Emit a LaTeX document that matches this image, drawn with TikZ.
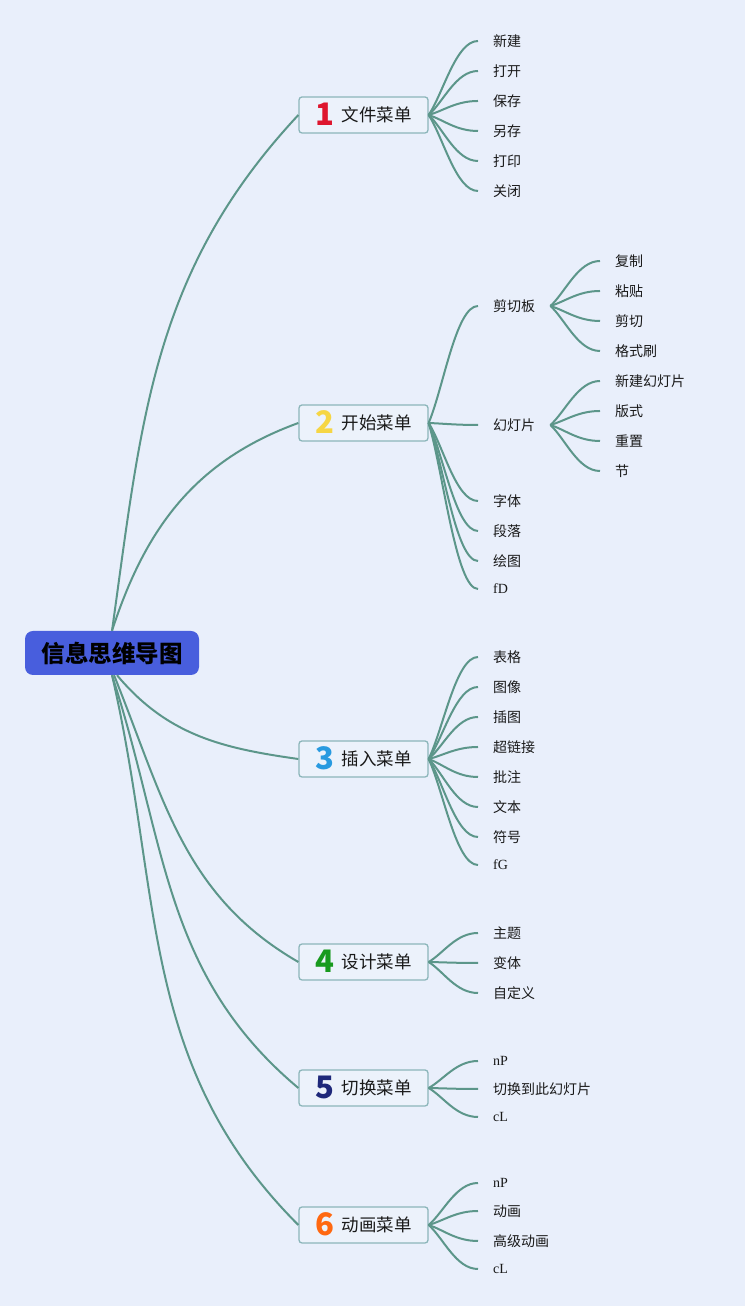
\documentclass[tikz,border=0pt]{standalone}
\usepackage{fontspec}
\setmainfont{Liberation Serif}
\newfontfamily\cjk{Noto Sans CJK SC}
\usetikzlibrary{calc}

\definecolor{bgcol}{RGB}{233,239,251}
\definecolor{linecol}{RGB}{92,150,138}
\definecolor{boxline}{RGB}{140,182,186}
\definecolor{boxfill}{RGB}{236,242,251}
\definecolor{rootblue}{RGB}{72,94,221}
\definecolor{inkcol}{RGB}{25,25,25}
\definecolor{no1}{RGB}{222,22,46}
\definecolor{no2}{RGB}{246,214,68}
\definecolor{no3}{RGB}{40,154,224}
\definecolor{no4}{RGB}{24,154,30}
\definecolor{no5}{RGB}{30,40,122}
\definecolor{no6}{RGB}{255,104,16}

\newcommand{\menuno}[2]{\raisebox{-3.5pt}[0pt][0pt]{\fontsize{31}{31}\selectfont\bfseries\color{#1}#2}\hspace{8pt}}

\tikzset{
  root/.style={fill=rootblue, rounded corners=8pt, minimum width=174pt,
    minimum height=44pt, text=black, font=\fontsize{23.5}{26}\selectfont\cjk\bfseries},
  menu/.style={draw=boxline, fill=boxfill, line width=1.3pt, rounded corners=3pt,
    minimum width=129pt, minimum height=36pt, inner sep=0pt, text=inkcol,
    font=\fontsize{17.5}{20}\selectfont\cjk},
  leaf/.style={anchor=west, inner xsep=15pt, inner ysep=2pt, text=inkcol,
    font=\fontsize{14}{16}\selectfont\cjk},
  latin/.style={font=\fontsize{14}{16}\selectfont\rmfamily},
  branch/.style={to path={.. controls ($(\tikztostart)!0.3!(\tikztotarget)$)
    and ([xshift=-22pt]\tikztotarget) .. (\tikztotarget)}}
}

\begin{document}
\begin{tikzpicture}[x=1pt,y=1pt]
  \fill[bgcol] (0,0) rectangle (745,1306);

  \node[root] (r) at (112,653) {信息思维导图};

  \begin{scope}[every node/.style={menu}]
    \node (m1) at (363.5,1191) {\menuno{no1}{1}文件菜单};
    \node (m2) at (363.5,883)  {\menuno{no2}{2}开始菜单};
    \node (m3) at (363.5,547)  {\menuno{no3}{3}插入菜单};
    \node (m4) at (363.5,344)  {\menuno{no4}{4}设计菜单};
    \node (m5) at (363.5,218)  {\menuno{no5}{5}切换菜单};
    \node (m6) at (363.5,81)   {\menuno{no6}{6}动画菜单};
  \end{scope}

  \begin{scope}[every node/.style={leaf}]
    % 文件菜单
    \node (a1) at (478,1265) {新建};
    \node (a2) at (478,1235) {打开};
    \node (a3) at (478,1205) {保存};
    \node (a4) at (478,1175) {另存};
    \node (a5) at (478,1145) {打印};
    \node (a6) at (478,1115) {关闭};
    % 开始菜单
    \node (b1) at (478,1000) {剪切板};
    \node (b2) at (478,881)  {幻灯片};
    \node (b3) at (478,805)  {字体};
    \node (b4) at (478,775)  {段落};
    \node (b5) at (478,745)  {绘图};
    \node[latin] (b6) at (478,717) {fD};
    \node (c1) at (600,1045) {复制};
    \node (c2) at (600,1015) {粘贴};
    \node (c3) at (600,985)  {剪切};
    \node (c4) at (600,955)  {格式刷};
    \node (d1) at (600,925)  {新建幻灯片};
    \node (d2) at (600,895)  {版式};
    \node (d3) at (600,865)  {重置};
    \node (d4) at (600,835)  {节};
    % 插入菜单
    \node (e1) at (478,649) {表格};
    \node (e2) at (478,619) {图像};
    \node (e3) at (478,589) {插图};
    \node (e4) at (478,559) {超链接};
    \node (e5) at (478,529) {批注};
    \node (e6) at (478,499) {文本};
    \node (e7) at (478,469) {符号};
    \node[latin] (e8) at (478,441) {fG};
    % 设计菜单
    \node (f1) at (478,373) {主题};
    \node (f2) at (478,343) {变体};
    \node (f3) at (478,313) {自定义};
    % 切换菜单
    \node[latin] (g1) at (478,245) {nP};
    \node (g2) at (478,217) {切换到此幻灯片};
    \node[latin] (g3) at (478,189) {cL};
    % 动画菜单
    \node[latin] (h1) at (478,123) {nP};
    \node (h2) at (478,95)  {动画};
    \node (h3) at (478,65)  {高级动画};
    \node[latin] (h4) at (478,37)  {cL};
  \end{scope}

  \begin{scope}[every edge/.style={draw=linecol, line width=2pt}]
    \path (r.north) edge[out=82,in=227] (m1.west);
    \path (r.north) edge[out=72,in=200] (m2.west);
    \path ([xshift=5pt]r.south) edge[out=-50,in=172] (m3.west);
    \path ([xshift=2pt]r.south) edge[out=-68,in=150] (m4.west);
    \path (r.south) edge[out=-72,in=140] (m5.west);
    \path (r.south) edge[out=-77,in=135] (m6.west);

    \path (m1.east) edge[branch] (a1.west) edge[branch] (a2.west) edge[branch] (a3.west)
                    edge[branch] (a4.west) edge[branch] (a5.west) edge[branch] (a6.west);
    \path (m2.east) edge[branch] (b1.west) edge[branch] (b2.west) edge[branch] (b3.west)
                    edge[branch] (b4.west) edge[branch] (b5.west) edge[branch] (b6.west);
    \path (b1.east) edge[branch] (c1.west) edge[branch] (c2.west)
                    edge[branch] (c3.west) edge[branch] (c4.west);
    \path (b2.east) edge[branch] (d1.west) edge[branch] (d2.west)
                    edge[branch] (d3.west) edge[branch] (d4.west);
    \path (m3.east) edge[branch] (e1.west) edge[branch] (e2.west) edge[branch] (e3.west)
                    edge[branch] (e4.west) edge[branch] (e5.west) edge[branch] (e6.west)
                    edge[branch] (e7.west) edge[branch] (e8.west);
    \path (m4.east) edge[branch] (f1.west) edge[branch] (f2.west) edge[branch] (f3.west);
    \path (m5.east) edge[branch] (g1.west) edge[branch] (g2.west) edge[branch] (g3.west);
    \path (m6.east) edge[branch] (h1.west) edge[branch] (h2.west)
                    edge[branch] (h3.west) edge[branch] (h4.west);
  \end{scope}

\end{tikzpicture}
\end{document}
